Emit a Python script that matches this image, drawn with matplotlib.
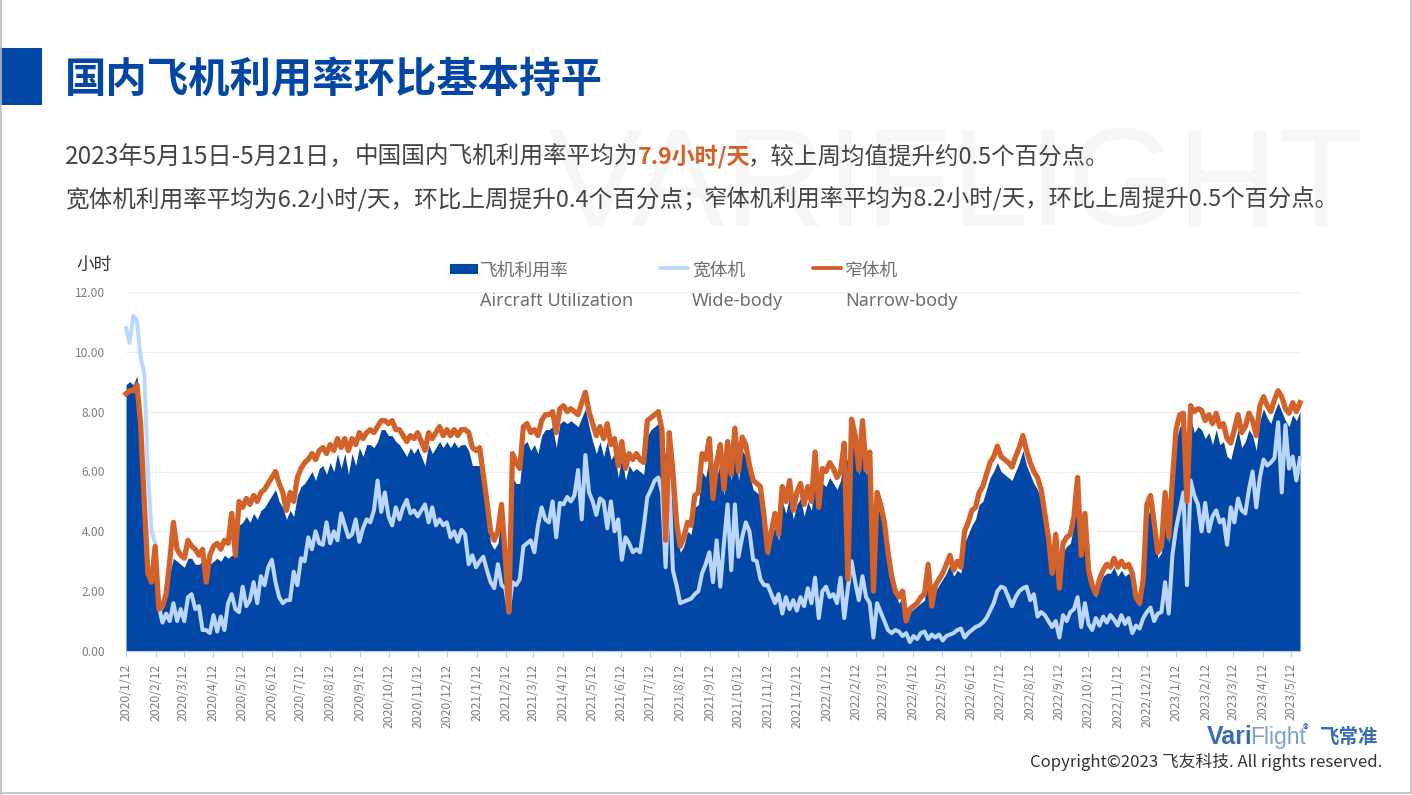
import pandas as pd
import matplotlib
matplotlib.use("Agg")
import matplotlib.pyplot as plt
from matplotlib.patches import Rectangle

plt.rcParams['font.family'] = ['Noto Sans CJK SC', 'DejaVu Sans']

BLUE = '#0347A6'
LIGHT = '#BBD7FF'
ORANGE = '#D2622A'
GREY = '#7F7F7F'

# one row per ~month
utilization = [
    8.9, 9.0, 8.9, 9.2, 8.0, 5.5, 3.0, 2.4,
    3.3, 1.3, 1.4, 1.7, 2.6, 3.1, 3.0, 2.9,
    2.8, 3.1, 3.1, 2.9, 2.9, 3.0, 2.7, 2.9,
    3.0, 3.1, 3.0, 3.2, 3.1, 3.2, 3.2, 4.2,
    4.3, 4.5, 4.3, 4.6, 4.4, 4.7, 4.8, 5.0,
    5.2, 5.4, 5.0, 4.8, 4.4, 4.7, 4.5, 5.2,
    5.5, 5.6, 5.8, 6.0, 5.7, 6.1, 6.2, 5.9,
    6.3, 6.0, 6.6, 6.1, 6.6, 5.9, 6.6, 6.2,
    6.8, 6.5, 6.9, 6.9, 6.8, 7.0, 7.4, 7.4,
    7.2, 7.2, 7.0, 6.9, 6.7, 6.5, 6.8, 6.6,
    6.8, 6.5, 6.2, 6.9, 6.6, 6.8, 7.0, 6.8,
    7.0, 6.8, 7.0, 6.8, 6.9, 6.9, 6.7, 6.2,
    6.2, 6.2, 5.3, 4.5, 3.6, 3.4, 3.6, 4.5,
    3.5, 3.0, 5.8, 5.6, 5.6, 6.9, 7.0, 6.7,
    6.9, 6.6, 7.2, 7.4, 7.4, 7.5, 6.8, 7.6,
    7.7, 7.6, 7.7, 7.6, 7.5, 7.8, 8.1, 7.5,
    7.0, 6.6, 7.0, 6.5, 7.0, 6.4, 6.6, 5.8,
    6.5, 5.7, 6.2, 6.0, 6.1, 6.0, 5.9, 7.2,
    7.4, 7.5, 7.6, 7.2, 6.5, 6.9, 5.5, 4.0,
    3.3, 3.5, 4.0, 3.9, 4.8, 4.9, 6.0, 5.8,
    6.5, 5.0, 5.8, 6.3, 5.2, 6.6, 5.7, 6.9,
    5.7, 6.7, 6.5, 5.9, 5.4, 5.3, 5.2, 4.2,
    3.2, 3.7, 4.2, 3.7, 5.0, 4.6, 5.2, 4.4,
    4.9, 5.1, 4.5, 5.0, 4.7, 6.0, 4.7, 5.6,
    5.5, 5.8, 5.6, 5.4, 5.7, 6.7, 6.3, 6.9,
    6.7, 5.9, 6.9, 5.9, 6.2, 4.5, 4.9, 4.5,
    4.0, 3.1, 2.3, 1.9, 1.6, 1.8, 1.4, 1.3,
    1.4, 1.5, 1.6, 1.7, 2.5, 1.6, 2.0, 2.2,
    2.4, 2.6, 2.9, 2.5, 2.7, 2.6, 3.6, 3.9,
    4.2, 4.4, 4.9, 5.0, 5.4, 5.8, 6.0, 6.3,
    6.0, 5.9, 5.8, 5.7, 6.0, 6.3, 6.7, 6.2,
    5.9, 5.6, 5.4, 5.0, 4.3, 3.5, 2.5, 3.5,
    2.0, 3.3, 3.5, 3.6, 4.2, 5.4, 3.6, 4.2,
    2.5, 2.0, 1.8, 2.2, 2.5, 2.6, 2.6, 2.8,
    2.5, 2.7, 2.5, 2.6, 2.4, 1.7, 1.5, 2.2,
    4.4, 4.8, 4.0, 3.1, 3.3, 4.9, 3.6, 5.3,
    7.0, 7.5, 7.6, 6.9, 7.8, 7.3, 7.5, 7.4,
    7.1, 7.3, 6.9, 7.4, 6.9, 7.0, 6.5, 6.4,
    6.9, 7.4, 6.8, 7.0, 7.4, 7.2, 6.7, 7.7,
    8.1, 7.8, 7.6, 8.0, 8.3, 8.0, 7.7, 7.5,
    7.9, 7.7, 8.0,
]
wide_body = [
    10.8, 10.3, 11.2, 11.05, 9.8, 9.3, 6.0, 4.0,
    3.6, 1.5, 0.95, 1.25, 1.0, 1.6, 1.0, 1.4,
    1.0, 1.8, 1.9, 1.4, 1.5, 0.7, 0.7, 0.6,
    1.2, 0.65, 1.15, 0.7, 1.6, 1.9, 1.4, 1.3,
    2.15, 1.5, 1.7, 2.3, 1.6, 2.5, 2.2, 2.8,
    3.05, 2.3, 1.8, 1.6, 1.7, 1.7, 2.65, 2.2,
    3.1, 3.0, 3.8, 3.4, 4.0, 3.6, 3.55, 4.3,
    3.6, 4.0, 3.7, 4.6, 4.2, 3.8, 3.9, 4.4,
    3.65, 4.1, 4.4, 4.3, 4.7, 5.7, 4.65, 5.3,
    4.5, 4.2, 4.8, 4.4, 4.8, 5.05, 4.6, 4.7,
    4.5, 4.7, 4.9, 4.3, 4.8, 4.2, 4.4, 4.2,
    4.3, 3.8, 4.0, 3.65, 4.05, 3.9, 2.9, 3.2,
    2.8, 3.0, 3.15, 2.7, 2.3, 2.1, 2.9, 2.2,
    2.1, 1.35, 2.3, 2.2, 2.4, 3.5, 3.6, 3.7,
    3.3, 4.2, 4.8, 4.4, 4.3, 5.0, 3.8, 4.95,
    4.9, 5.15, 5.0, 5.2, 6.05, 4.4, 6.55, 5.3,
    5.0, 4.55, 5.1, 5.0, 4.1, 5.0, 4.0, 4.4,
    3.05, 3.8, 3.6, 3.3, 3.4, 3.3, 4.15, 5.15,
    5.4, 5.7, 5.8, 5.3, 2.8, 5.8, 2.7, 2.2,
    1.6, 1.65, 1.7, 1.75, 1.9, 2.0, 2.6, 2.9,
    3.3, 2.3, 3.7, 2.15, 3.6, 4.9, 2.7, 4.9,
    3.15, 3.8, 4.3, 4.0, 3.05, 3.0, 2.4, 2.2,
    2.2, 1.9, 1.6, 1.9, 1.25, 1.8, 1.4, 1.7,
    1.35, 1.8, 1.5, 2.1, 1.6, 2.45, 1.1, 2.0,
    2.15, 1.8, 1.9, 1.6, 2.45, 1.1, 2.1, 3.0,
    2.3, 1.7, 2.5, 1.8, 1.6, 0.45, 1.6, 1.3,
    1.0, 0.7, 0.6, 0.7, 0.65, 0.5, 0.6, 0.3,
    0.5, 0.4, 0.6, 0.65, 0.4, 0.55, 0.45, 0.55,
    0.35, 0.5, 0.55, 0.6, 0.7, 0.75, 0.45, 0.6,
    0.7, 0.8, 0.85, 0.95, 1.1, 1.35, 1.6, 2.0,
    2.15, 2.1, 1.8, 1.5, 1.8, 2.0, 2.1, 2.15,
    1.7, 1.9, 1.15, 1.3, 1.2, 1.0, 0.8, 1.0,
    0.45, 1.2, 1.0, 1.3, 1.4, 1.8, 0.8, 1.6,
    0.9, 0.7, 1.1, 0.85, 1.15, 0.95, 1.2, 1.05,
    0.85, 1.2, 0.9, 1.1, 0.6, 0.85, 0.75, 1.1,
    1.3, 1.45, 1.0, 1.25, 1.3, 2.3, 1.25, 3.2,
    4.1, 4.7, 5.3, 2.2, 5.7, 5.2, 4.9, 4.0,
    4.95, 4.0, 4.5, 4.7, 4.3, 4.4, 3.55, 4.8,
    4.3, 5.1, 4.7, 4.6, 5.4, 6.0, 4.8, 5.8,
    6.4, 6.2, 6.3, 6.45, 7.65, 5.3, 7.55, 6.1,
    6.5, 5.7, 6.45,
]
narrow_body = [
    8.6, 8.7, 8.7, 8.9, 7.6, 5.0, 2.6, 2.3,
    3.5, 1.4, 1.5, 1.9, 3.0, 4.3, 3.4, 3.2,
    3.1, 3.7, 3.5, 3.4, 3.2, 3.4, 2.3, 3.2,
    3.5, 3.6, 3.4, 3.7, 3.6, 4.6, 3.2, 5.0,
    4.8, 5.1, 4.9, 5.2, 5.0, 5.3, 5.4, 5.6,
    5.8, 6.0, 5.6, 5.3, 4.7, 5.3, 5.0, 5.8,
    6.1, 6.3, 6.4, 6.6, 6.4, 6.7, 6.8, 6.6,
    6.9, 6.7, 7.1, 6.8, 7.1, 6.7, 7.1, 6.9,
    7.3, 7.1, 7.3, 7.4, 7.3, 7.5, 7.7, 7.7,
    7.6, 7.7, 7.4, 7.4, 7.2, 7.0, 7.2, 7.1,
    7.3, 7.0, 6.7, 7.3, 7.1, 7.3, 7.5, 7.2,
    7.4, 7.2, 7.4, 7.2, 7.4, 7.4, 7.3, 6.8,
    6.7, 6.8, 5.9, 5.0, 4.0, 3.7, 4.0, 4.9,
    3.2, 1.3, 6.6, 6.3, 6.1, 7.5, 7.6, 7.3,
    7.4, 7.2, 7.7, 7.9, 7.9, 8.0, 7.3, 8.1,
    8.2, 8.0, 8.1, 8.0, 7.9, 8.3, 8.65, 8.0,
    7.6, 7.2, 7.5, 7.1, 7.6, 6.9, 7.1, 6.2,
    7.0, 6.1, 6.6, 6.4, 6.6, 6.4, 6.3, 7.7,
    7.8, 7.9, 8.0, 7.4, 3.7, 7.3, 6.0, 4.3,
    3.5, 3.8, 4.3, 4.2, 5.2, 5.3, 6.6, 6.4,
    7.1, 5.1, 6.3, 6.9, 5.4, 7.0, 5.9, 7.45,
    6.0, 7.15, 6.9, 6.2, 5.7, 5.6, 5.5, 4.5,
    3.3, 4.0, 4.6, 3.9, 5.5, 5.0, 5.7, 4.7,
    5.3, 5.6, 4.9, 5.5, 5.0, 6.65, 4.8, 6.1,
    6.0, 6.3, 6.1, 5.8, 6.0, 6.95, 2.4, 7.75,
    7.2, 6.05, 7.7, 6.05, 6.65, 2.0, 5.3, 4.9,
    4.3, 3.3, 2.5, 2.0, 1.8, 2.0, 1.0, 1.4,
    1.5, 1.6, 1.8, 1.9, 2.9, 1.5, 2.2, 2.4,
    2.6, 2.9, 3.2, 2.7, 3.0, 2.8, 4.0, 4.3,
    4.7, 4.8, 5.3, 5.5, 5.9, 6.3, 6.5, 6.85,
    6.5, 6.4, 6.3, 6.15, 6.5, 6.8, 7.2, 6.7,
    6.3, 6.0, 5.8, 5.4, 4.6, 3.8, 2.6, 3.9,
    2.1, 3.6, 3.8, 3.9, 4.5, 5.8, 3.2, 4.6,
    2.7, 2.2, 1.9, 2.4, 2.7, 2.9, 2.8, 3.1,
    2.8, 3.0, 2.8, 2.9, 2.6, 1.8, 1.6, 2.4,
    4.9, 5.2, 4.3, 3.3, 3.5, 5.3, 3.8, 5.7,
    7.4, 7.9, 7.95, 5.0, 8.2, 8.0, 8.1, 8.05,
    7.7, 7.9, 7.6, 7.95, 7.5, 7.6, 7.1, 6.95,
    7.4, 7.9, 7.3, 7.5, 7.95, 7.7, 7.2, 8.2,
    8.5, 8.2, 8.0, 8.4, 8.7, 8.5, 8.1, 7.95,
    8.3, 8.0, 8.3,
]

dates = pd.date_range('2020-01-12', '2023-05-21', periods=len(narrow_body))
month_ticks = pd.date_range('2020-01-12', '2023-05-12', freq=pd.DateOffset(months=1))
month_labels = [f"{d.year}/{d.month}/12" for d in month_ticks]
y_ticks = [0, 2, 4, 6, 8, 10, 12]

W, H = 1412, 795
fig = plt.figure(figsize=(W / 100, H / 100), dpi=100, facecolor='white')

# page layer in pixel coordinates
page = fig.add_axes([0, 0, 1, 1], zorder=0)
page.set_xlim(0, W)
page.set_ylim(H, 0)
page.axis('off')

for seg in ([0.5, 0.5, 0, H], [W - 1, W - 1, 0, H - 2], [0, W, H - 2, H - 2]):
    page.plot(seg[:2], seg[2:], color='#BDBDBD', lw=1.2)

page.add_patch(Rectangle((0, 48), 42, 57, color=BLUE, lw=0))
page.text(65, 80, '国内飞机利用率环比基本持平', color=BLUE, fontsize=29.8,
          fontweight='bold', va='center')

page.text(548, 226, 'VARIFLIGHT', family='Liberation Sans', fontsize=101,
          color='#F6F6F6', va='baseline')

body = '#444444'
page.text(65, 157, '2023年5月15日-5月21日，', color=body, fontsize=17.5, va='center')
page.text(355, 157, '中国国内飞机利用率平均为', color=body, fontsize=17, va='center')
page.text(638, 157, '7.9小时/天', color=ORANGE, fontsize=16.6, fontweight='bold', va='center')
page.text(748, 157, '，较上周均值提升约0.5个百分点。', color=body, fontsize=16.9, va='center')
page.text(65, 199, '宽体机利用率平均为6.2小时/天，环比上周提升0.4个百分点；', color=body, fontsize=17, va='center')
page.text(704, 199, '窄体机利用率平均为8.2小时/天，环比上周提升0.5个百分点。', color=body, fontsize=16.8, va='center')

page.text(76, 265, '小时', color='#333333', fontsize=12.7, va='center')

# legend, placed by hand like the slide
legend_grey = '#6E6E6E'
page.add_patch(Rectangle((450, 264), 28, 10, color=BLUE, lw=0))
page.plot([660, 688], [268, 268], color=LIGHT, lw=2.8, solid_capstyle='round')
page.plot([813, 841], [268, 268], color=ORANGE, lw=2.8, solid_capstyle='round')
for x, cn, en in [(480, '飞机利用率', 'Aircraft Utilization'),
                  (692, '宽体机', 'Wide-body'),
                  (845, '窄体机', 'Narrow-body')]:
    page.text(x, 271, cn, color=legend_grey, fontsize=12.8, va='center')
    page.text(x, 301, en, color=legend_grey, fontsize=13, va='center',
              family=['Noto Sans', 'DejaVu Sans'])

# logo and copyright
page.text(1207, 744, 'Vari', color='#3A6DB5', fontsize=18, fontweight='bold',
          family='Liberation Sans', va='baseline')
page.text(1250, 744, 'Flight', color='#7BA0D4', fontsize=16.5,
          family='Liberation Sans', va='baseline')
page.text(1303, 733, '®', color='#3A6DB5', fontsize=8, fontweight='bold', va='baseline')
page.text(1320, 743, '飞常准', color='#3A6DB5', fontsize=14, fontweight='bold', va='baseline')
page.text(1382, 762, 'Copyright©2023 飞友科技. All rights reserved.', color='#333333',
          fontsize=12.05, ha='right', va='center')

# chart
ax = fig.add_axes([126 / W, 1 - 651 / H, (1300 - 126) / W, (651 - 292) / H], zorder=1)
ax.patch.set_alpha(0)
ax.fill_between(dates, utilization, 0, color=BLUE, lw=0, zorder=2)
ax.plot(dates, wide_body, color=LIGHT, lw=2.9, zorder=3, clip_on=False, solid_joinstyle='round')
ax.plot(dates, narrow_body, color=ORANGE, lw=3.8, zorder=4, clip_on=False, solid_joinstyle='round')

ax.set_xlim(dates[0], dates[-1])
ax.set_ylim(0, 12)
ax.set_yticks(y_ticks)
ax.set_yticklabels([f"{v:.2f}" for v in y_ticks])
ax.set_xticks(month_ticks)
ax.set_xticklabels(month_labels, rotation=90)
ax.grid(axis='y', color='#F0F0F0', lw=1, zorder=1)
ax.tick_params(axis='y', length=0, pad=15, labelsize=8.6, labelcolor=GREY)
ax.tick_params(axis='x', length=4, width=0.8, color='#B8CCE4', pad=5, labelsize=8.8, labelcolor=GREY)
for side in ['top', 'right', 'left']:
    ax.spines[side].set_visible(False)
ax.spines['bottom'].set_color('#B8CCE4')
ax.spines['bottom'].set_zorder(5)

fig.savefig('out.png', dpi=100)
